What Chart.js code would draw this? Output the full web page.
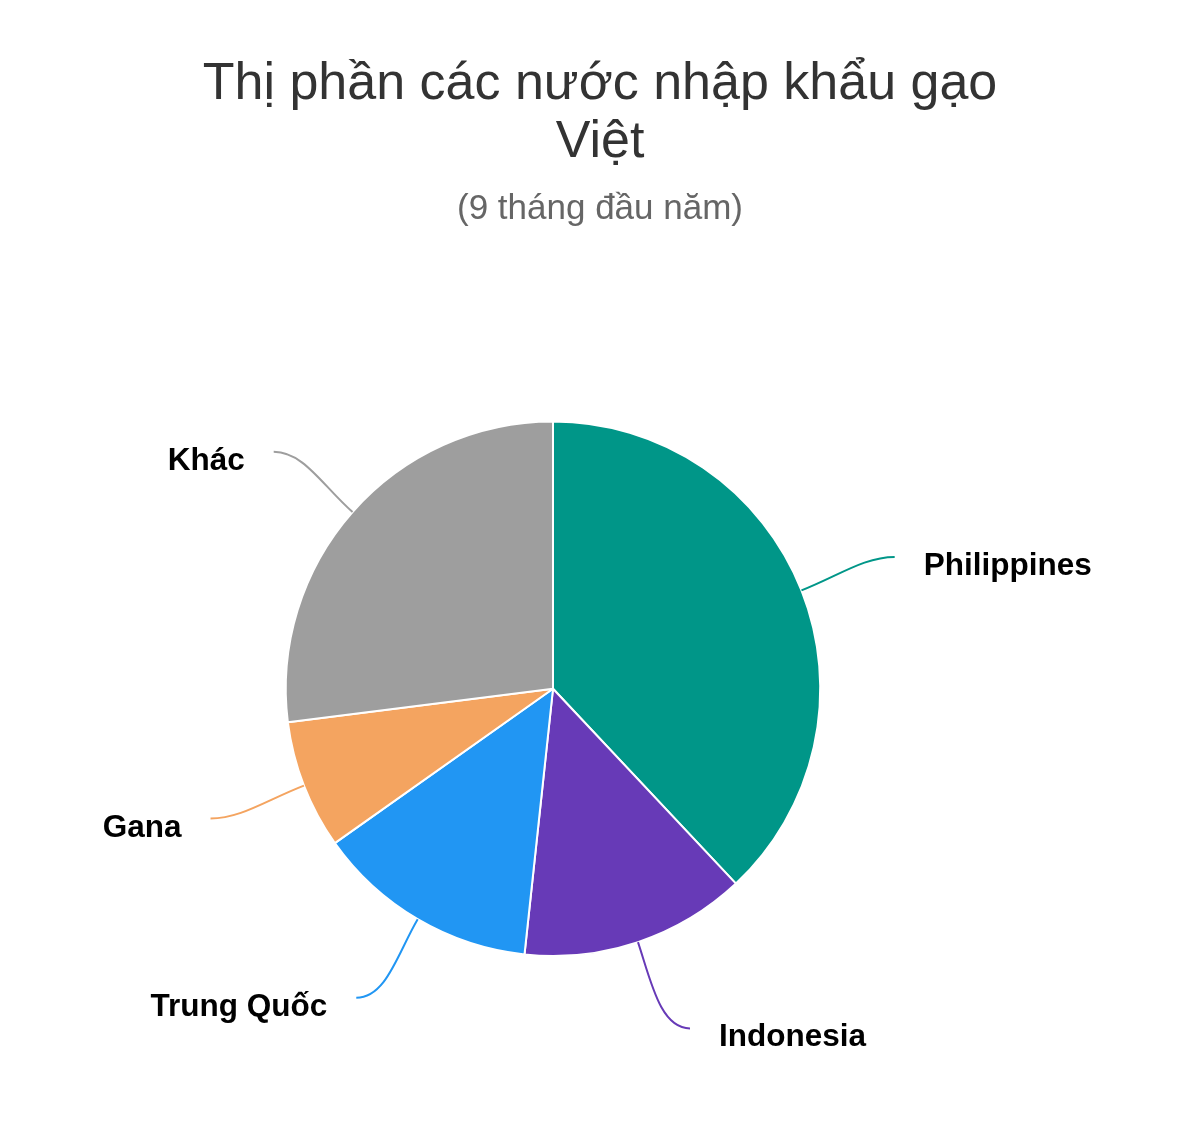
<!DOCTYPE html>
<html>
<head>
<meta charset="utf-8">
<script src="https://cdn.jsdelivr.net/npm/chart.js@4"></script>
<style>
  body { margin: 0; background: #fff; }
  canvas { display: block; }
</style>
</head>
<body>
<canvas id="pie" width="1200" height="1121"></canvas>
<script>
// data (share in %)
const categories = ['Philippines', 'Indonesia', 'Trung Quốc', 'Gana', 'Khác'];
const shares = [38.0, 13.7, 13.5, 7.8, 27.0];
const sliceColors = ['#009688', '#673AB7', '#2196F3', '#F4A460', '#9E9E9E'];
const titleLines = ['Thị phần các nước nhập khẩu gạo', 'Việt'];
const subtitleText = '(9 tháng đầu năm)';

const FONT = '"Liberation Sans", Arial, Helvetica, sans-serif';

// pie sits left of the page centre in the original, titles stay centred
const shiftPie = {
  id: 'shiftPie',
  afterLayout(chart) {
    chart.chartArea.right -= 94;
    chart.chartArea.width = chart.chartArea.right - chart.chartArea.left;
  }
};

// highcharts-like outside labels with soft connectors
const outsideLabels = {
  id: 'outsideLabels',
  afterDatasetsDraw(chart) {
    const ctx = chart.ctx;
    const arcs = chart.getDatasetMeta(0).data;
    ctx.save();
    arcs.forEach((arc, i) => {
      const mid = (arc.startAngle + arc.endAngle) / 2;
      const r = arc.outerRadius;
      const cos = Math.cos(mid), sin = Math.sin(mid);
      const right = cos >= 0;
      const dir = right ? 1 : -1;
      const x0 = arc.x + r * cos, y0 = arc.y + r * sin;
      // label row from the angle, then pushed out onto a slightly wider ring
      const dy = (r + 91) * sin;
      const rx = r + 99;
      const x1 = arc.x + dir * Math.sqrt(Math.max(rx * rx - dy * dy, 0));
      const y1 = arc.y + dy;

      ctx.beginPath();
      ctx.moveTo(x0, y0);
      ctx.bezierCurveTo(x0 + 40 * cos, y0 + 40 * sin, x1 - dir * 30, y1, x1, y1);
      ctx.strokeStyle = sliceColors[i];
      ctx.lineWidth = 2;
      ctx.stroke();

      ctx.font = 'bold 31.5px ' + FONT;
      ctx.fillStyle = '#000';
      ctx.textBaseline = 'alphabetic';
      ctx.textAlign = right ? 'left' : 'right';
      ctx.fillText(categories[i], x1 + dir * 29, y1 + 18);
    });
    ctx.restore();
  }
};

new Chart(document.getElementById('pie'), {
  type: 'pie',
  data: {
    labels: categories,
    datasets: [{
      data: shares,
      backgroundColor: sliceColors,
      borderColor: '#ffffff',
      borderWidth: 2,
      hoverOffset: 0
    }]
  },
  options: {
    responsive: false,
    animation: false,
    devicePixelRatio: 1,
    layout: { padding: { top: 0, left: 100, right: 100, bottom: 164 } },
    plugins: {
      legend: { display: false },
      tooltip: { enabled: false },
      title: {
        display: true,
        text: titleLines,
        color: '#333333',
        font: { family: FONT, size: 52, weight: 'normal', lineHeight: 1.13 },
        padding: { top: 55, bottom: 16 }
      },
      subtitle: {
        display: true,
        text: subtitleText,
        color: '#666666',
        font: { family: FONT, size: 35, weight: 'normal', lineHeight: 1.2 },
        padding: { top: 0, bottom: 190 }
      }
    }
  },
  plugins: [shiftPie, outsideLabels]
});
</script>
</body>
</html>
